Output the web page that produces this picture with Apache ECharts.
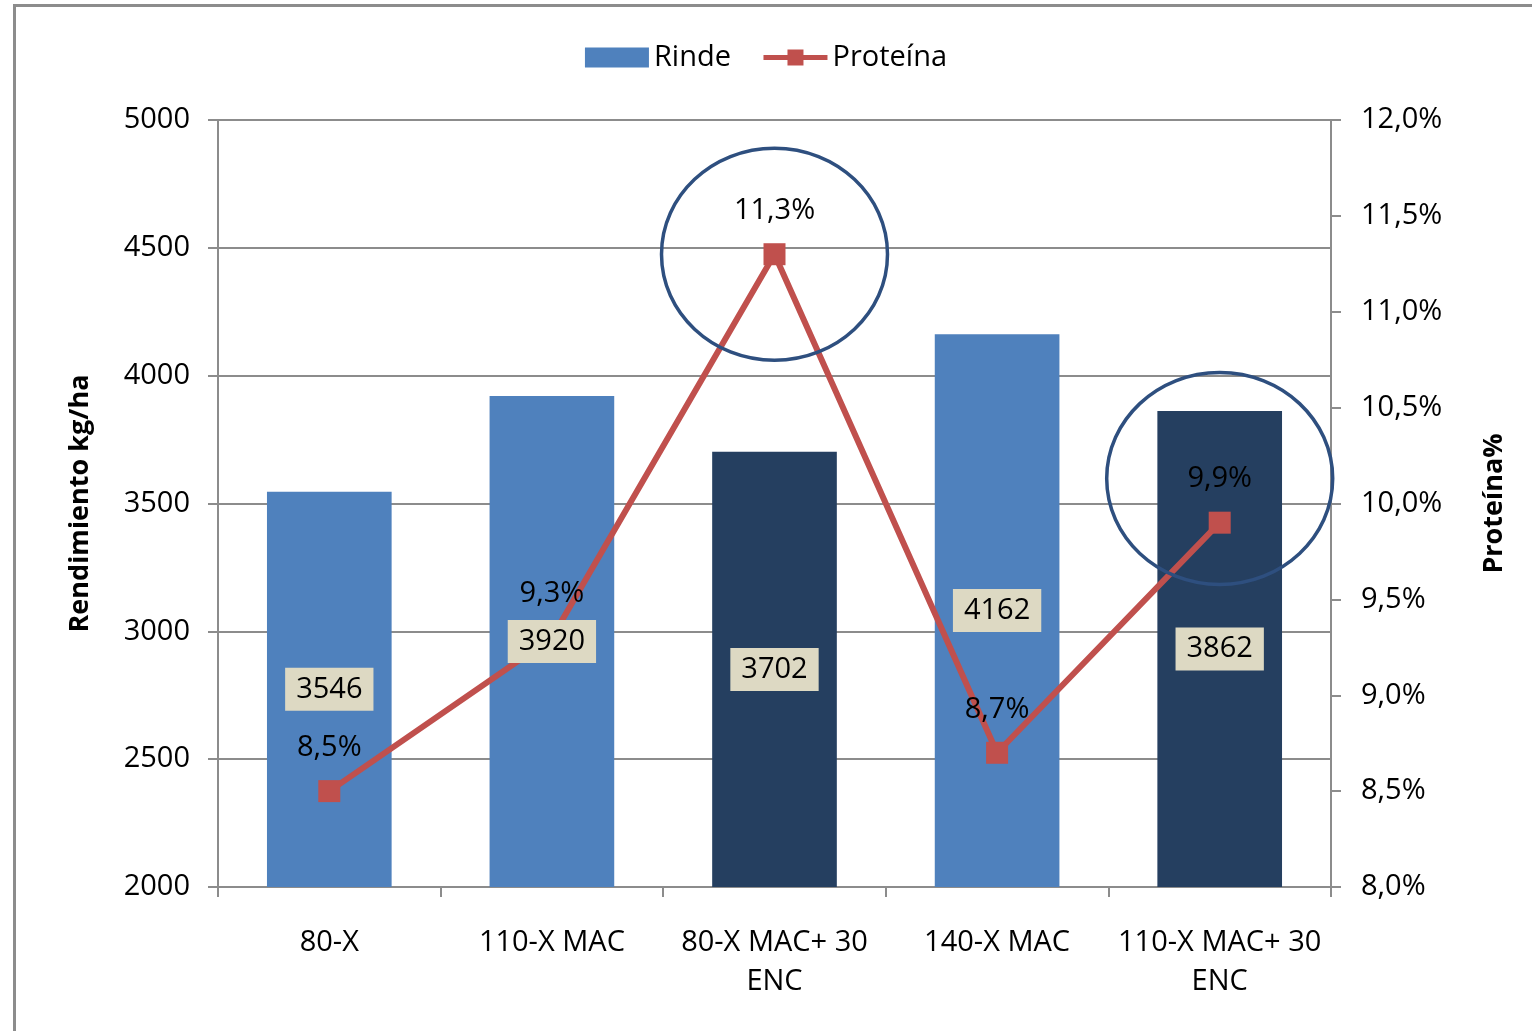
<!DOCTYPE html>
<html>
<head>
<meta charset="utf-8">
<script src="https://cdn.jsdelivr.net/npm/echarts@6/dist/echarts.min.js"></script>
<style>
  html, body { margin: 0; padding: 0; background: #fff; overflow: hidden; }
  #frame { position: absolute; left: 13px; top: 4px; width: 1600px; height: 1100px; border: 3px solid #8c8c8c; box-sizing: border-box; }
  #chart { position: absolute; left: 0; top: 0; width: 1532px; height: 1031px; }
</style>
</head>
<body>
<div id="frame"></div>
<div id="chart"></div>
<script>
// datos
const categories = ['80-X', '110-X MAC', '80-X MAC+ 30\nENC', '140-X MAC', '110-X MAC+ 30\nENC']
const rinde = [3546, 3920, 3702, 4162, 3862]
const proteina = [8.5, 9.3, 11.3, 8.7, 9.9]
const darkBars = [false, false, true, false, true]
// circulos de resaltado: categoria y centro en el eje de proteina
const circleCats = [2, 4]
const circleCenters = [11.3, 10.13]

const FONT = 'Open Sans'
const pct = v => v.toFixed(1).replace('.', ',') + '%'

const chart = echarts.init(document.getElementById('chart'))

const option = {
  animation: false,
  textStyle: { fontFamily: FONT },
  legend: {
    top: 38,
    left: 'center',
    itemWidth: 64,
    itemHeight: 20,
    itemGap: 30,
    textStyle: { fontSize: 29, color: '#000', fontFamily: FONT },
    data: [
      { name: 'Rinde', icon: 'rect' },
      { name: 'Proteína', lineStyle: { width: 5, color: '#c0504d' } }
    ]
  },
  grid: { left: 218, right: 201, top: 120, bottom: 144 },
  xAxis: {
    type: 'category',
    data: categories,
    axisLine: { lineStyle: { color: '#8c8c8c', width: 2 } },
    axisTick: { show: true, length: 10, alignWithLabel: false, lineStyle: { color: '#8c8c8c', width: 2 } },
    axisLabel: { fontSize: 29, color: '#000', margin: 36, lineHeight: 39, interval: 0 }
  },
  yAxis: [
    {
      type: 'value',
      min: 2000, max: 5000, interval: 500,
      name: 'Rendimiento kg/ha',
      nameLocation: 'middle',
      nameRotate: 90,
      nameGap: 124,
      nameTextStyle: { fontSize: 27, fontWeight: 'bold', color: '#000' },
      axisLine: { show: true, lineStyle: { color: '#8c8c8c', width: 2 } },
      axisTick: { show: true, length: 10, lineStyle: { color: '#8c8c8c', width: 2 } },
      axisLabel: { fontSize: 29, color: '#000', margin: 28, formatter: v => String(v) },
      splitLine: { lineStyle: { color: '#8c8c8c', width: 2 } }
    },
    {
      type: 'value',
      min: 8, max: 12, interval: 0.5,
      name: 'Proteína%',
      nameLocation: 'middle',
      nameRotate: 90,
      nameGap: 150,
      nameTextStyle: { fontSize: 27, fontWeight: 'bold', color: '#000' },
      axisLine: { show: true, lineStyle: { color: '#8c8c8c', width: 2 } },
      axisTick: { show: true, length: 10, lineStyle: { color: '#8c8c8c', width: 2 } },
      axisLabel: { fontSize: 29, color: '#000', margin: 30, formatter: pct },
      splitLine: { show: false }
    }
  ],
  series: [
    {
      name: 'Rinde',
      type: 'bar',
      barWidth: '56%',
      itemStyle: { color: '#4f81bd' },
      data: rinde.map((v, i) => ({
        value: v,
        itemStyle: { color: darkBars[i] ? '#253f60' : '#4f81bd' }
      })),
      z: 2
    },
    {
      name: 'Proteína',
      type: 'line',
      yAxisIndex: 1,
      data: proteina,
      symbol: 'rect',
      symbolSize: 22,
      lineStyle: { color: '#c0504d', width: 6 },
      itemStyle: { color: '#c0504d' },
      label: {
        show: true,
        position: 'top',
        distance: 18,
        fontSize: 29,
        color: '#000',
        formatter: p => pct(p.value)
      },
      z: 3
    },
    {
      // solo las etiquetas de rinde, encima de la linea
      name: 'RindeEtiquetas',
      type: 'bar',
      barWidth: '56%',
      barGap: '-100%',
      data: rinde,
      itemStyle: { color: 'rgba(0,0,0,0)' },
      silent: true,
      label: {
        show: true,
        position: 'inside',
        fontSize: 29,
        color: '#000',
        backgroundColor: '#ddd9c3',
        padding: [9, 11, 5, 11]
      },
      z: 5
    }
  ]
}

chart.setOption(option)

// elipses sobre los puntos destacados
const ellipses = circleCats.map((c, i) => {
  const pt = chart.convertToPixel({ xAxisIndex: 0, yAxisIndex: 1 }, [c, circleCenters[i]])
  return {
    type: 'ellipse',
    shape: { cx: pt[0], cy: pt[1], rx: 113, ry: 106 },
    style: { fill: 'none', stroke: '#2e4f7f', lineWidth: 3.5 },
    z: 100
  }
})
chart.setOption({ graphic: ellipses })
</script>
</body>
</html>
